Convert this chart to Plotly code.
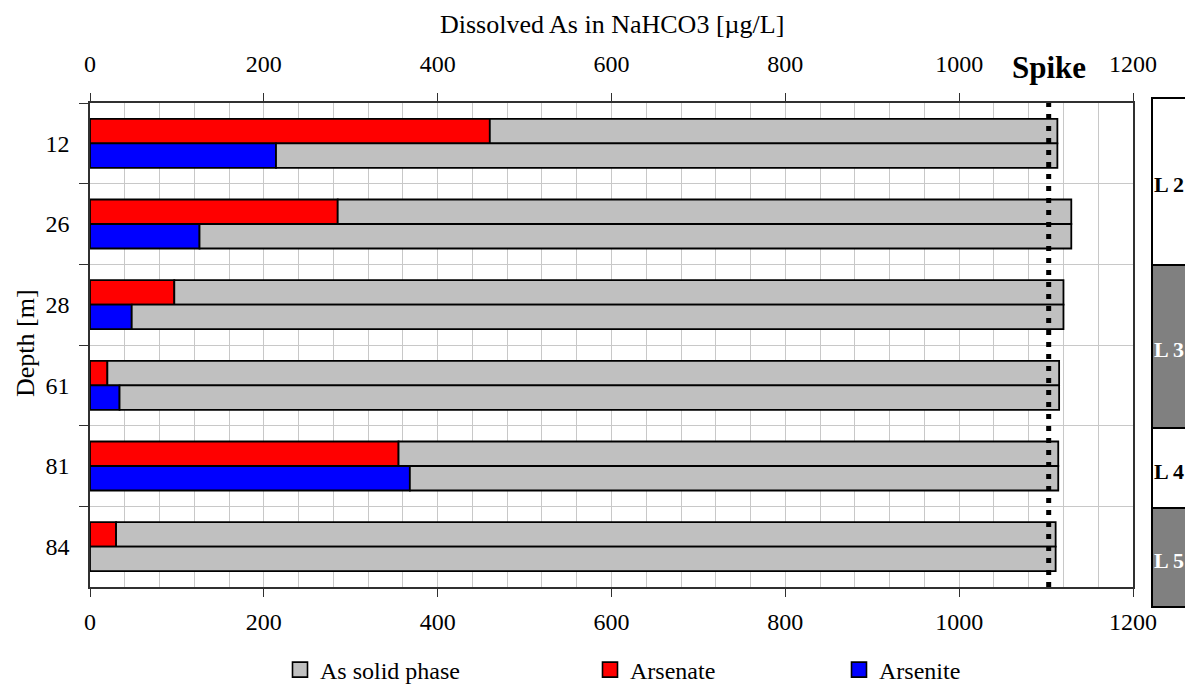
import plotly.graph_objects as go

# ---------------- data ----------------
depths = ["12", "26", "28", "61", "81", "84"]
arsenate = [460, 285, 97, 20, 355, 30]          # dissolved As(V)  [µg/L]
arsenite = [214, 126, 48, 34, 368, 0]           # dissolved As(III) [µg/L]
bar_total = [1113, 1129, 1120, 1115, 1114, 1111]  # end of grey (solid phase) bar
spike_value = 1103
layer_names = ["L 2", "L 3", "L 4", "L 5"]
x_ticks = [0, 200, 400, 600, 800, 1000, 1200]

solid_after_arsenate = [t - a for t, a in zip(bar_total, arsenate)]
solid_after_arsenite = [t - b for t, b in zip(bar_total, arsenite)]

FONT = "Liberation Serif, Times New Roman, serif"
GREY = "#C0C0C0"
RED = "#FF0000"
BLUE = "#0000FF"
OUT = dict(color="black", width=1.8)

# page body has an 8px default margin -> screen = figure + 8
OFF = 8
PL, PR, PT, PB = 90, 1133, 103, 587   # plot area in screen pixels


def px_x(s):
    return (s - PL) / (PR - PL)


def px_y(s):
    return (PB - s) / (PB - PT)


fig = go.Figure()
fig.add_bar(y=depths, x=arsenate, orientation="h", name="Arsenate",
            marker=dict(color=RED, line=OUT), offsetgroup="a", showlegend=False)
fig.add_bar(y=depths, x=solid_after_arsenate, base=arsenate, orientation="h",
            name="As solid phase", marker=dict(color=GREY, line=OUT),
            offsetgroup="a", showlegend=False)
fig.add_bar(y=depths, x=arsenite, orientation="h", name="Arsenite",
            marker=dict(color=BLUE, line=OUT), offsetgroup="b", showlegend=False)
fig.add_bar(y=depths, x=solid_after_arsenite, base=arsenite, orientation="h",
            name="As solid phase", marker=dict(color=GREY, line=OUT),
            offsetgroup="b", showlegend=False)
# invisible trace to carry the top axis
fig.add_scatter(x=[0, 1200], y=[depths[0], depths[0]], xaxis="x2", mode="none",
                showlegend=False, hoverinfo="skip")

# legend entries (square swatches)
for nm, col, lg in [("As solid phase", GREY, "legend"),
                    ("Arsenate", RED, "legend2"),
                    ("Arsenite", BLUE, "legend3")]:
    fig.add_scatter(x=[None], y=[None], mode="markers", name=nm, legend=lg,
                    marker=dict(symbol="square", size=15, color=col,
                                line=dict(color="black", width=1.6)))

axis_line = dict(showline=True, linecolor="#303030", linewidth=1.6)
fig.update_layout(
    width=1193, height=686,
    margin=dict(l=PL - OFF, r=1193 - (PR - OFF), t=PT - OFF, b=686 - (PB - OFF),
                autoexpand=False),
    paper_bgcolor="white", plot_bgcolor="white",
    barmode="group", bargap=0.393, bargroupgap=0,
    font=dict(family=FONT, size=24, color="black"),
    xaxis=dict(range=[0, 1200], tickvals=x_ticks, ticks="outside", ticklen=8,
               tickcolor="#303030", showgrid=True, gridcolor="#C8C8C8", gridwidth=1,
               minor=dict(dtick=40, showgrid=True, gridcolor="#C8C8C8", gridwidth=1),
               zeroline=False, ticklabelstandoff=4, automargin=False, **axis_line),
    xaxis2=dict(range=[0, 1200], overlaying="x", side="top", tickvals=x_ticks,
                ticks="outside", ticklen=8, tickcolor="#303030", showgrid=False,
                zeroline=False, ticklabelstandoff=12, automargin=False, **axis_line),
    yaxis=dict(categoryorder="array", categoryarray=depths, autorange="reversed",
               tickson="boundaries", ticks="outside", ticklen=9, tickcolor="#303030",
               showgrid=True, gridcolor="#C8C8C8", gridwidth=1, mirror=True,
               ticklabelstandoff=14, automargin=False, **axis_line),
    showlegend=True,
)

leg_common = dict(orientation="h", yanchor="middle", y=px_y(670), xanchor="left",
                  bgcolor="rgba(0,0,0,0)", font=dict(family=FONT, size=24),
                  itemwidth=30, tracegroupgap=0)
fig.update_layout(
    legend=dict(x=px_x(300 - 20), **leg_common),
    legend2=dict(x=px_x(610 - 20), **leg_common),
    legend3=dict(x=px_x(859 - 20), **leg_common),
)

# spike reference line
fig.add_shape(type="line", xref="x", yref="paper", x0=spike_value, x1=spike_value,
              y0=0, y1=1, line=dict(color="black", width=5, dash="5px,7px"))
fig.add_annotation(x=spike_value, xref="x", y=px_y(67), yref="paper",
                   text="<b>Spike</b>", showarrow=False, font=dict(size=31),
                   xanchor="center", yanchor="middle")

# titles
fig.add_annotation(x=0.5, xref="paper", y=px_y(25), yref="paper",
                   text="Dissolved As in NaHCO3 [µg/L]", showarrow=False,
                   font=dict(size=26), xanchor="center", yanchor="middle")
fig.add_annotation(x=px_x(25), xref="paper", y=px_y(343), yref="paper",
                   text="Depth [m]", textangle=-90, showarrow=False,
                   font=dict(size=26), xanchor="center", yanchor="middle")

# layer boxes on the right
bounds = [98, 265, 428, 508, 607]
fills = ["white", "#808080", "white", "#808080"]
txtcol = ["black", "white", "black", "white"]
for i, name in enumerate(layer_names):
    fig.add_shape(type="rect", xref="paper", yref="paper",
                  x0=px_x(1152), x1=1.3, y0=px_y(bounds[i + 1]), y1=px_y(bounds[i]),
                  fillcolor=fills[i], line=dict(color="black", width=2))
    fig.add_annotation(x=px_x(1152), xref="paper",
                       y=px_y((bounds[i] + bounds[i + 1]) / 2 + 3), yref="paper",
                       text=f"<b>{name}</b>", showarrow=False,
                       font=dict(size=22, color=txtcol[i]),
                       xanchor="left", yanchor="middle")

fig.write_html("out.html")
